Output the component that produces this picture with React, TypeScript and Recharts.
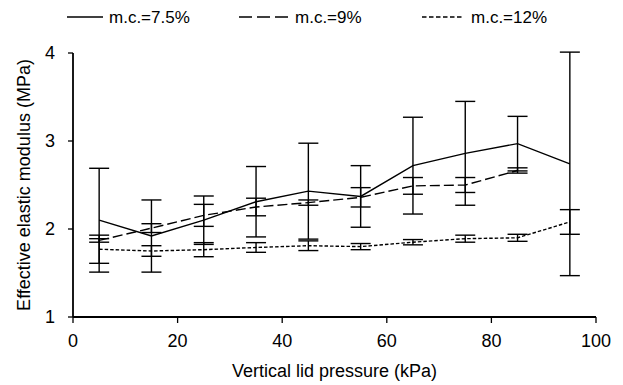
import { LineChart, Line, XAxis, YAxis, ErrorBar, Legend } from 'recharts';

// vertical lid pressure (kPa)
const pressures = [5, 15, 25, 35, 45, 55, 65, 75, 85, 95];

// effective elastic modulus (MPa) and its error, per moisture content
const mc75 = [2.1, 1.92, 2.1, 2.31, 2.43, 2.37, 2.72, 2.86, 2.97, 2.74];
const mc75Err = [0.59, 0.41, 0.275, 0.4, 0.545, 0.35, 0.55, 0.59, 0.31, 1.27];
const mc9 = [1.87, 2.01, 2.155, 2.25, 2.3, 2.36, 2.49, 2.5, 2.665, null];
const mc9Err = [0.02, 0.05, 0.125, 0.1, 0.03, 0.11, 0.095, 0.085, 0.03, null];
const mc12 = [1.77, 1.75, 1.765, 1.79, 1.81, 1.8, 1.85, 1.89, 1.9, 2.08];
const mc12Err = [0.16, 0.06, 0.08, 0.055, 0.055, 0.035, 0.03, 0.04, 0.04, 0.14];

const xTicks = [0, 20, 40, 60, 80, 100];
const yTicks = [1, 2, 3, 4];

const seriesNames = ['m.c.=7.5%', 'm.c.=9%', 'm.c.=12%'];

const FONT = '"Liberation Sans", Arial, sans-serif';

const rows = pressures.map((p, i) => ({
  p,
  mc75: mc75[i],
  mc75Err: mc75Err[i],
  mc9: mc9[i],
  mc9Err: mc9Err[i],
  mc12: mc12[i],
  mc12Err: mc12Err[i],
}));

function LegendContent() {
  // hand-placed legend like the original figure
  const items = [
    { x1: 59, x2: 95, tx: 101, dash: undefined },
    { x1: 231, x2: 280, tx: 287, dash: '13 5' },
    { x1: 414, x2: 455, tx: 463, dash: '4.5 2.5' },
  ];
  return (
    <svg width={615} height={26} style={{ display: 'block' }}>
      {items.map((it, i) => (
        <g key={i}>
          <line x1={it.x1} x2={it.x2} y1={9} y2={9} stroke="#000" strokeWidth={1.5} strokeDasharray={it.dash} />
          <text x={it.tx} y={15} fontSize={17} fontFamily={FONT} fill="#000">
            {seriesNames[i]}
          </text>
        </g>
      ))}
    </svg>
  );
}

export default function App() {
  const tickStyle = { fontSize: 18, fill: '#000', fontFamily: FONT };
  return (
    <LineChart
      width={615}
      height={377}
      data={rows}
      margin={{ top: 45, right: 27, bottom: 38, left: 5 }}
    >
      <Legend
        verticalAlign="middle"
        layout="horizontal"
        align="center"
        wrapperStyle={{ top: 0, left: 0, width: 615, height: 26 }}
        content={<LegendContent />}
      />
      <XAxis
        type="number"
        dataKey="p"
        domain={[0, 100]}
        ticks={xTicks}
        height={30}
        tick={tickStyle}
        tickSize={6}
        tickMargin={11}
        axisLine={{ stroke: '#000', strokeWidth: 1.8 }}
        tickLine={{ stroke: '#000', strokeWidth: 1.3 }}
        label={{
          value: 'Vertical lid pressure (kPa)',
          position: 'bottom',
          offset: 17,
          style: { fontSize: 18, fill: '#000', fontFamily: FONT },
        }}
      />
      <YAxis
        type="number"
        domain={[1, 4]}
        ticks={yTicks}
        allowDataOverflow
        width={60}
        tick={tickStyle}
        tickSize={5}
        tickMargin={13}
        axisLine={{ stroke: '#000', strokeWidth: 1.8 }}
        tickLine={{ stroke: '#000', strokeWidth: 1.3 }}
        label={{
          value: 'Effective elastic modulus (MPa)',
          angle: -90,
          position: 'insideLeft',
          offset: 11,
          style: { fontSize: 18, fill: '#000', fontFamily: FONT, textAnchor: 'middle' },
        }}
      />
      <Line
        dataKey="mc75"
        name={seriesNames[0]}
        stroke="#000"
        strokeWidth={1.4}
        dot={false}
        activeDot={false}
        isAnimationActive={false}
      >
        <ErrorBar dataKey="mc75Err" width={10} stroke="#000" strokeWidth={1.4} direction="y" />
      </Line>
      <Line
        dataKey="mc9"
        name={seriesNames[1]}
        stroke="#000"
        strokeWidth={1.4}
        strokeDasharray="10 4"
        dot={false}
        activeDot={false}
        isAnimationActive={false}
      >
        <ErrorBar dataKey="mc9Err" width={10} stroke="#000" strokeWidth={1.4} direction="y" />
      </Line>
      <Line
        dataKey="mc12"
        name={seriesNames[2]}
        stroke="#000"
        strokeWidth={1.4}
        strokeDasharray="3.5 2"
        dot={false}
        activeDot={false}
        isAnimationActive={false}
      >
        <ErrorBar dataKey="mc12Err" width={10} stroke="#000" strokeWidth={1.4} direction="y" />
      </Line>
    </LineChart>
  );
}
